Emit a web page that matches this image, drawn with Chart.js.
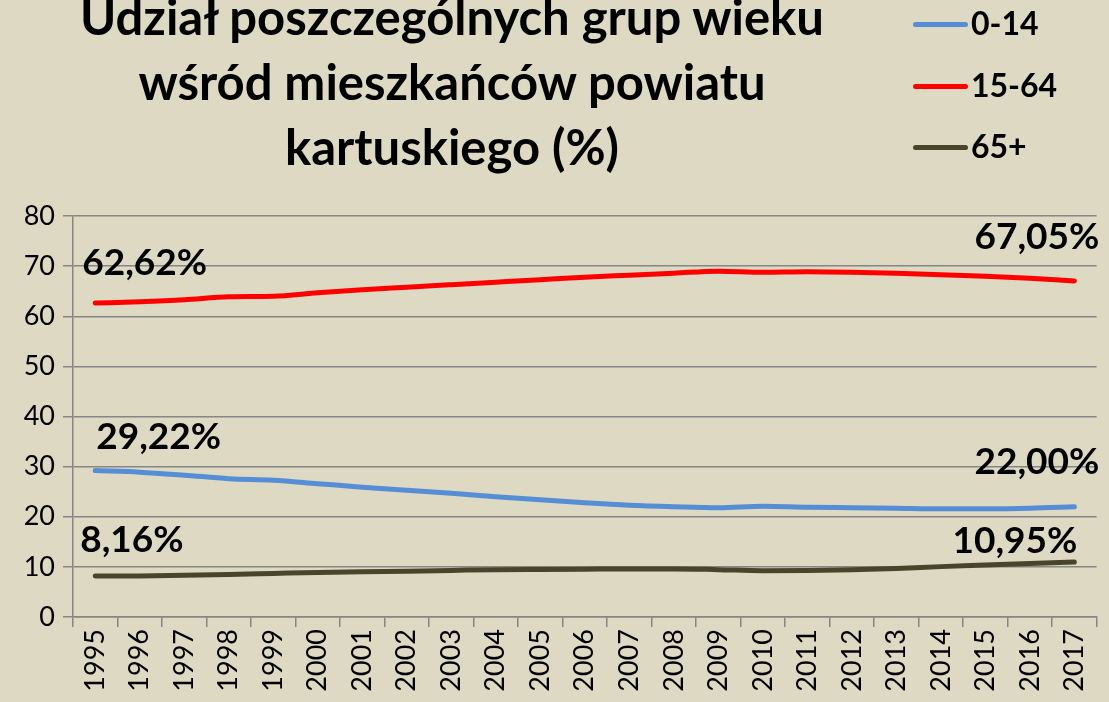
<!DOCTYPE html>
<html>
<head>
<meta charset="utf-8">
<script src="https://cdn.jsdelivr.net/npm/chart.js@4"></script>
<style>
  html, body { margin: 0; padding: 0; background: #DDD9C3; }
  #wrap { position: relative; width: 1109px; height: 702px; overflow: hidden; }
  #title {
    position: absolute; left: 52px; top: -16px; width: 800px;
    text-align: center; font-family: Lato, sans-serif; font-weight: bold;
    font-size: 49px; line-height: 65px; color: #000; white-space: nowrap;
  }
  #legend { position: absolute; left: 913px; top: 0; font-family: Lato, sans-serif; font-weight: bold; font-size: 32px; }
  .item { position: absolute; left: 0; white-space: nowrap; }
  .item span.swatch { position: absolute; left: 0; width: 55px; height: 5px; border-radius: 3px; }
  .item span.txt { position: absolute; left: 58px; line-height: 32px; }
</style>
</head>
<body>
<div id="wrap">
  <canvas id="chart" width="1109" height="702"></canvas>
  <div id="title">Udział poszczególnych grup wieku<br>wśród mieszkańców powiatu<br>kartuskiego (%)</div>
  <div id="legend"></div>
</div>
<script>
// Data
const years = ["1995", "1996", "1997", "1998", "1999", "2000", "2001", "2002", "2003", "2004", "2005",
  "2006", "2007", "2008", "2009", "2010", "2011", "2012", "2013", "2014", "2015", "2016", "2017"];
const age0to14 = [29.22, 28.9, 28.3, 27.6, 27.3, 26.6, 25.9, 25.3, 24.7, 24.0, 23.4,
  22.8, 22.3, 22.0, 21.8, 22.1, 21.9, 21.8, 21.7, 21.6, 21.6, 21.7, 22.0];
const age15to64 = [62.62, 62.9, 63.3, 63.9, 64.0, 64.7, 65.3, 65.8, 66.3, 66.8, 67.3,
  67.8, 68.2, 68.6, 69.0, 68.8, 68.9, 68.8, 68.6, 68.3, 68.0, 67.6, 67.05];
const age65plus = [8.16, 8.2, 8.35, 8.5, 8.7, 8.9, 9.05, 9.15, 9.3, 9.45, 9.5,
  9.55, 9.6, 9.6, 9.45, 9.25, 9.3, 9.45, 9.7, 10.05, 10.35, 10.65, 10.95];
const seriesNames = ["0-14", "15-64", "65+"];
const yTicks = [0, 10, 20, 30, 40, 50, 60, 70, 80];

const colors = ["#558ED5", "#FF0000", "#4A452A"];

// Legend (HTML)
const legend = document.getElementById("legend");
const legendTops = [24, 86, 147];
seriesNames.forEach(function (name, i) {
  const item = document.createElement("div");
  item.className = "item";
  item.style.top = legendTops[i] + "px";
  item.innerHTML = '<span class="swatch" style="background:' + colors[i] + ';top:-2px"></span>' +
    '<span class="txt" style="top:-17px">' + name + "</span>";
  legend.appendChild(item);
});

// End-point labels: [dataset, point index, dx, dy, align]
const endLabels = [
  [1, 0, -13, -40, "left"],
  [1, 22, 25, -44, "right"],
  [0, 0, 1, -33, "left"],
  [0, 22, 25, -45, "right"],
  [2, 0, -15, -36, "left"],
  [2, 22, 3, -21, "right"],
];

const labelPlugin = {
  id: "endLabels",
  afterDatasetsDraw(chart) {
    const ctx = chart.ctx;
    ctx.save();
    ctx.font = "bold 37px Lato, sans-serif";
    ctx.fillStyle = "#000";
    ctx.textBaseline = "middle";
    endLabels.forEach(function (l) {
      const pt = chart.getDatasetMeta(l[0]).data[l[1]];
      const v = chart.data.datasets[l[0]].data[l[1]];
      ctx.textAlign = l[4];
      ctx.fillText(v.toFixed(2).replace(".", ",") + "%", pt.x + l[2], pt.y + l[3]);
    });
    ctx.restore();
  },
};

function makeSet(label, data, color) {
  return {
    label: label,
    data: data,
    borderColor: color,
    backgroundColor: color,
    borderWidth: 5,
    borderCapStyle: "round",
    pointRadius: 0,
    tension: 0.3,
    cubicInterpolationMode: "monotone",
    fill: false,
  };
}

new Chart(document.getElementById("chart"), {
  type: "line",
  data: {
    labels: years,
    datasets: [
      makeSet(seriesNames[0], age0to14, colors[0]),
      makeSet(seriesNames[1], age15to64, colors[1]),
      makeSet(seriesNames[2], age65plus, colors[2]),
    ],
  },
  options: {
    responsive: false,
    animation: false,
    layout: { padding: { top: 216, right: 12, left: 0, bottom: 0 } },
    plugins: { legend: { display: false }, tooltip: { enabled: false } },
    scales: {
      x: {
        offset: true,
        afterFit: function (scale) { scale.height = 85; },
        grid: { offset: true, drawOnChartArea: false, drawTicks: true, tickLength: 10, color: "#868686", lineWidth: 1.5 },
        border: { color: "#868686", width: 1.5 },
        ticks: {
          minRotation: 90, maxRotation: 90, autoSkip: false, padding: 2,
          color: "#000", font: { family: "Lato, sans-serif", size: 27 },
        },
      },
      y: {
        min: 0,
        max: 80,
        afterFit: function (scale) { scale.width = 73; },
        afterBuildTicks: function (scale) {
          scale.ticks = yTicks.map(function (v) { return { value: v }; });
        },
        grid: { color: "#868686", lineWidth: 1.5, tickLength: 10 },
        border: { color: "#868686", width: 1.5 },
        ticks: { padding: 8, color: "#000", font: { family: "Lato, sans-serif", size: 27 } },
      },
    },
  },
  plugins: [labelPlugin],
});
</script>
</body>
</html>
